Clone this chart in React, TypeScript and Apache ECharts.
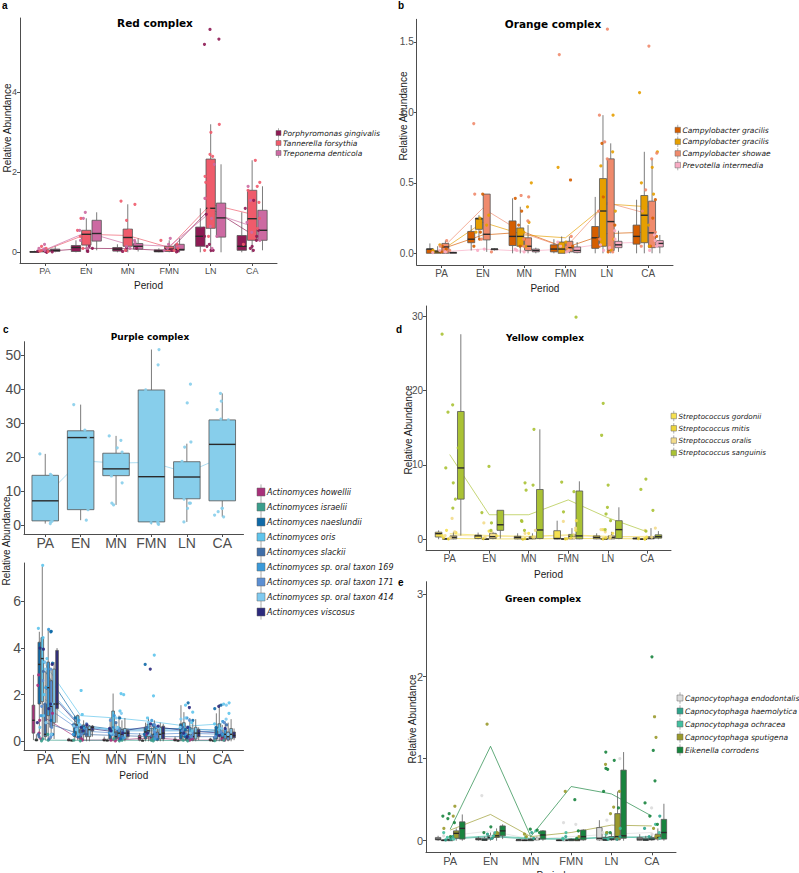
import React, { useEffect, useRef } from "react";
import * as echarts from "echarts";

const periods = ["PA", "EN", "MN", "FMN", "LN", "CA"];

// ---------- a: Red complex ----------
const redSpecies = ["Porphyromonas gingivalis", "Tannerella forsythia", "Treponema denticola"];
const redColors = ["#8e1b54", "#ef5b6b", "#cc6aa2"];
const redTicks = [0, 2, 4];
const redBoxes = [
  [[0, 0, 0.01, 0.02, 0.04], [0, 0.02, 0.12, 0.17, 0.3], [0, 0.03, 0.08, 0.12, 0.2], [0, 0.01, 0.03, 0.06, 0.1], [0, 0.15, 0.4, 0.63, 1.1], [0, 0.05, 0.15, 0.42, 1.0]],
  [[0, 0.01, 0.03, 0.06, 0.12], [0, 0.18, 0.45, 0.55, 0.85], [0, 0.15, 0.37, 0.58, 1.2], [0, 0.02, 0.08, 0.15, 0.3], [0, 0.6, 1.1, 2.33, 3.2], [0, 0.3, 0.84, 1.55, 2.3]],
  [[0, 0.02, 0.05, 0.08, 0.15], [0.05, 0.28, 0.47, 0.8, 1.0], [0.02, 0.08, 0.15, 0.22, 0.35], [0, 0.05, 0.07, 0.2, 0.35], [0, 0.38, 0.86, 1.23, 2.2], [0.05, 0.3, 0.55, 1.05, 1.65]],
];
const redMeans = [
  [0.02, 0.1, 0.09, 0.04, 1.1, 0.45],
  [0.05, 0.45, 0.42, 0.12, 1.2, 0.95],
  [0.06, 0.5, 0.2, 0.15, 1.0, 0.65],
];
const redPoints = [
  [[0, 0.01, 0.02, 0.03], [0.02, 0.1, 0.15, 0.05], [0.05, 0.1, 0.02, 0.12], [0.01, 0.03, 0.05], [5.57, 5.33, 5.2, 0.6, 0.4, 0.15, 0.05, 0.05, 0.2, 0.95], [1.3, 1.1, 0.4, 0.15, 0.1, 0.05, 0.55, 0.3]],
  [[0.05, 0.1, 0.02, 0.15, 0.03], [0.85, 0.55, 0.3, 0.1, 0.4], [1.28, 1.2, 0.8, 0.55, 0.3, 0.05], [0.3, 0.2, 0.1, 0.05], [3.2, 3.0, 2.45, 2.4, 1.9, 1.75, 1.1, 0.9, 0.4, 0.05, 1.35], [2.3, 1.75, 1.65, 1.55, 1.25, 0.85, 0.6, 0.2]],
  [[0.05, 0.1, 0.08, 0.2], [1.0, 0.85, 0.55, 0.3, 0.1], [0.3, 0.25, 0.15, 0.1], [0.35, 0.2, 0.1, 0.05], [2.2, 1.35, 0.85, 0.65, 0.4, 0.1], [1.65, 1.3, 0.75, 0.5, 0.3]],
];

// ---------- b: Orange complex ----------
const orangeSpecies = ["Campylobacter gracilis", "Campylobacter gracilis", "Campylobacter showae", "Prevotella intermedia"];
const orangeColors = ["#d55e00", "#e69f00", "#ef8a6c", "#f8acc4"];
const orangeTicks = [0, 0.5, 1, 1.5];
const orangeBoxes = [
  [[0, 0, 0.03, 0.03, 0.07], [0.02, 0.075, 0.1, 0.155, 0.2], [0, 0.055, 0.12, 0.23, 0.39], [0, 0.01, 0.03, 0.06, 0.1], [0, 0.035, 0.11, 0.19, 0.4], [0, 0.065, 0.12, 0.2, 0.38]],
  [[0, 0, 0.01, 0.02, 0.05], [0.1, 0.17, 0.245, 0.25, 0.27], [0, 0.05, 0.12, 0.18, 0.33], [0, 0, 0.03, 0.08, 0.12], [0, 0.05, 0.3, 0.53, 0.98], [0, 0.075, 0.27, 0.41, 0.72]],
  [[0, 0, 0.045, 0.07, 0.09], [0.01, 0.095, 0.135, 0.42, 0.42], [0, 0.02, 0.05, 0.11, 0.2], [0, 0.01, 0.04, 0.085, 0.12], [0, 0.02, 0.225, 0.67, 0.78], [0, 0.04, 0.145, 0.37, 0.67]],
  [[0, 0, 0.005, 0.005, 0.01], [0.02, 0.025, 0.03, 0.03, 0.035], [0, 0.01, 0.02, 0.03, 0.04], [0, 0.005, 0.02, 0.045, 0.08], [0.01, 0.04, 0.06, 0.085, 0.16], [0, 0.045, 0.07, 0.09, 0.13]],
];
const orangeMeans = [
  [0.03, 0.13, 0.15, 0.04, 0.14, 0.15],
  [0.02, 0.22, 0.13, 0.11, 0.35, 0.33],
  [0.03, 0.32, 0.14, 0.04, 0.36, 0.28],
  [0.01, 0.03, 0.015, 0.03, 0.07, 0.08],
];
const orangePoints = [
  [[0.03, 0.05, 0.01], [0.42, 0.15, 0.1, 0.05], [0.39, 0.3, 0.2, 0.1, 0.05], [0.52, 0.05, 0.02], [0.78, 0.4, 0.2, 0.1, 0.05, 0.01], [0.38, 0.25, 0.12, 0.05]],
  [[0.02, 0.06, 0.01], [0.27, 0.25, 0.2, 0.15], [0.5, 0.33, 0.22, 0.15, 0.05], [0.61, 0.08, 0.03], [0.98, 0.72, 0.62, 0.42, 0.3, 0.1, 0.02], [1.14, 0.72, 0.61, 0.5, 0.42, 0.2, 0.05]],
  [[0.09, 0.05, 0.02], [0.92, 0.42, 0.3, 0.1, 0.01], [0.41, 0.4, 0.23, 0.1, 0.05], [1.41, 0.12, 0.04], [1.59, 0.98, 0.79, 0.67, 0.55, 0.3, 0.1, 0.01], [1.47, 0.71, 0.67, 0.45, 0.3, 0.15, 0.05]],
  [[0.01, 0.005, 0.02], [0.03, 0.02], [0.02, 0.03, 0.01], [0.08, 0.02, 0.05, 0.01], [0.16, 0.1, 0.06, 0.04, 0.02], [0.13, 0.09, 0.07, 0.05, 0.02]],
];

// ---------- c (top): Purple complex, total ----------
const purpleTotalSpecies = ["Actinomyces"];
const purpleTotalColors = ["#87ceeb"];
const purpleTotalTicks = [0, 10, 20, 30, 40, 50];
const purpleTotalBoxes = [
  [[0.5, 1.3, 7.2, 14.7, 21], [1.5, 4.6, 25.8, 27.8, 35.5], [6, 14.6, 16.6, 21.2, 26.3], [0.3, 1.0, 14.3, 39.8, 51.7], [1, 7.8, 14.2, 18.7, 24], [2.5, 7.2, 23.8, 31, 38.8]],
];
const purpleTotalMeans = [[8.5, 19, 18.3, 18.5, 15.5, 20]];
const purpleTotalPoints = [
  [[21, 15, 14.7, 1.2, 1.0, 0.5], [35.5, 28, 4.6, 1.5, 25.8], [26.3, 25, 22.8, 21.5, 14.5, 12.5, 6.5, 6], [51.7, 47.2, 39.8, 1, 0.5, 0.3, 0.8], [41.5, 36, 24.5, 23, 18.8, 7.7, 6.5, 6.5, 5, 1], [38.8, 36.5, 34, 31.2, 31, 5, 4, 5, 3, 2.5]],
];

// ---------- c (bottom): Purple complex, species ----------
const purpleSpecies = [
  "Actinomyces howellii", "Actinomyces israelii", "Actinomyces naeslundii", "Actinomyces oris", "Actinomyces slackii",
  "Actinomyces sp. oral taxon 169", "Actinomyces sp. oral taxon 171", "Actinomyces sp. oral taxon 414", "Actinomyces viscosus",
];
const purpleColors = ["#a8307a", "#3a9e8c", "#0f6aa8", "#5ec4ec", "#3f6ea8", "#3a9ad9", "#5b8fd3", "#7fcaf0", "#2c2a7d"];
const purpleTicks = [0, 2, 4, 6];
const purpleBoxes = [
  [[0.05, 0.35, 0.9, 1.55, 2.85], [0, 0.02, 0.05, 0.1, 0.15], [0, 0.02, 0.04, 0.1, 0.2], [0, 0.05, 0.15, 0.25, 0.35], [0, 0.02, 0.05, 0.1, 0.2], [0, 0.02, 0.05, 0.1, 0.15]],
  [[0, 0.02, 0.05, 0.1, 0.3], [0, 0.01, 0.03, 0.05, 0.1], [0, 0.01, 0.03, 0.06, 0.12], [0, 0.01, 0.02, 0.05, 0.1], [0, 0.01, 0.02, 0.04, 0.08], [0, 0.01, 0.02, 0.04, 0.08]],
  [[0.1, 1.6, 3.3, 4.25, 4.7], [0, 0.2, 0.6, 0.75, 1.1], [0, 0.1, 0.3, 0.55, 1.0], [0, 0.1, 0.4, 0.6, 0.8], [0, 0.1, 0.35, 0.75, 1.55], [0, 0.1, 0.3, 0.6, 1.2]],
  [[0.1, 1.7, 3.55, 4.45, 7.5], [0.05, 0.3, 0.7, 1.1, 1.15], [0, 0.3, 0.6, 1.3, 2.05], [0, 0.2, 0.45, 0.75, 1.0], [0, 0.2, 0.45, 0.8, 1.25], [0, 0.25, 0.5, 0.75, 1.6]],
  [[0.05, 0.2, 0.3, 1.6, 3.0], [0, 0.1, 0.3, 0.5, 0.7], [0, 0.1, 0.2, 0.4, 0.8], [0, 0.05, 0.15, 0.3, 0.6], [0, 0.05, 0.15, 0.3, 0.6], [0, 0.05, 0.15, 0.35, 0.7]],
  [[0.05, 1.1, 2.3, 3.4, 4.8], [0.05, 0.3, 0.55, 0.7, 0.9], [0, 0.15, 0.35, 0.6, 1.1], [0, 0.1, 0.3, 0.6, 0.9], [0, 0.1, 0.3, 0.6, 1.0], [0, 0.1, 0.3, 0.5, 0.85]],
  [[0.1, 0.6, 1.5, 2.6, 3.1], [0, 0.2, 0.3, 0.6, 0.75], [0, 0.1, 0.3, 0.5, 0.9], [0, 0.05, 0.2, 0.4, 0.7], [0, 0.05, 0.2, 0.45, 0.9], [0, 0.05, 0.2, 0.4, 0.8]],
  [[0.1, 0.8, 1.6, 3.1, 3.4], [0, 0.2, 0.5, 0.65, 0.7], [0, 0.1, 0.35, 0.55, 1.0], [0, 0.1, 0.3, 0.6, 0.8], [0, 0.1, 0.35, 0.6, 0.95], [0, 0.1, 0.3, 0.55, 0.95]],
  [[0.8, 1.4, 1.6, 3.9, 4.0], [0.2, 0.45, 0.6, 0.65, 0.7], [0.1, 0.2, 0.35, 0.45, 0.55], [0, 0.1, 0.35, 0.65, 0.75], [0.05, 0.2, 0.35, 0.5, 0.6], [0.05, 0.15, 0.25, 0.4, 0.55]],
];
const purpleMeans = [
  [1.0, 0.05, 0.05, 0.15, 0.05, 0.05],
  [0.05, 0.04, 0.05, 0.04, 0.03, 0.03],
  [3.0, 0.7, 0.5, 0.55, 0.55, 0.45],
  [3.3, 1.1, 1.0, 0.85, 0.65, 0.75],
  [0.8, 0.3, 0.25, 0.2, 0.2, 0.2],
  [2.4, 0.65, 0.45, 0.45, 0.45, 0.4],
  [1.5, 0.45, 0.35, 0.3, 0.35, 0.3],
  [1.8, 0.55, 0.55, 0.5, 0.5, 0.5],
  [2.3, 0.6, 0.4, 0.65, 0.45, 0.35],
];
const purplePoints = [
  [[2.85, 2.4, 1.2, 0.9, 0.35, 0.1], [0.1, 0.05], [0.1, 0.05, 0.02], [0.3, 0.2, 0.1], [0.1, 0.05], [0.1, 0.05]],
  [[0.05, 0.1, 0.02, 0.3], [0.05, 0.02], [0.05, 0.1, 0.02], [0.05, 0.02, 0.1], [0.05, 0.02], [0.05, 0.03]],
  [[4.7, 4.72, 3.35, 1.6, 0.9, 0.3], [1.0, 0.6, 0.2], [1.0, 0.5, 0.3, 0.1], [3.3, 0.7, 0.3, 0.1], [1.65, 0.9, 0.5, 0.2], [1.55, 1.4, 0.6, 0.3]],
  [[7.55, 4.85, 4.45, 3.55, 2.0, 1.1, 0.6], [2.18, 1.15, 0.7, 0.3], [2.05, 2.0, 1.3, 0.6, 0.3], [3.7, 1.95, 1.0, 0.45], [1.55, 1.25, 0.8, 0.45], [1.65, 1.6, 1.2, 0.75, 0.5]],
  [[3.0, 1.6, 0.3, 0.2, 0.1], [0.7, 0.3], [0.8, 0.4, 0.2], [0.6, 0.3, 0.15], [0.6, 0.3, 0.15], [0.7, 0.35, 0.15]],
  [[4.8, 3.4, 2.3, 1.1, 0.3], [0.9, 0.55, 0.3], [1.1, 0.6, 0.35, 0.15], [0.9, 0.6, 0.3, 0.1], [1.0, 0.6, 0.3], [0.85, 0.5, 0.3]],
  [[3.1, 2.6, 1.5, 0.6, 0.2], [0.75, 0.6, 0.3], [0.9, 0.5, 0.3], [0.7, 0.4, 0.2], [0.9, 0.45, 0.2], [0.8, 0.4, 0.2]],
  [[3.4, 3.1, 1.6, 0.8, 0.3], [0.7, 0.65, 0.5], [1.2, 1.0, 0.55, 0.35], [0.8, 0.6, 0.3], [1.0, 0.95, 0.6, 0.35], [1.55, 0.95, 0.55, 0.3]],
  [[4.0, 3.95, 3.3, 1.6, 1.4, 0.8], [0.7, 0.6, 0.45], [0.55, 0.45, 0.35], [3.1, 0.75, 0.65, 0.35], [1.45, 0.6, 0.35, 0.2], [1.5, 0.55, 0.25]],
];

// ---------- d: Yellow complex ----------
const yellowSpecies = ["Streptococcus gordonii", "Streptococcus mitis", "Streptococcus oralis", "Streptococcus sanguinis"];
const yellowColors = ["#f5e050", "#ecd43c", "#f3dc8c", "#aac234"];
const yellowTicks = [0, 10, 20, 30];
const yellowBoxes = [
  [[0, 0.3, 0.75, 0.95, 1.2], [0, 0.1, 0.45, 0.55, 0.9], [0, 0.05, 0.25, 0.4, 0.8], [0, 0.05, 0.1, 1.15, 2.5], [0, 0.05, 0.25, 0.45, 0.8], [0, 0.05, 0.1, 0.15, 0.3]],
  [[0, 0, 0.05, 0.1, 0.2], [0, 0, 0.02, 0.05, 0.1], [0, 0, 0.02, 0.05, 0.1], [0, 0, 0.03, 0.1, 0.2], [0, 0, 0.03, 0.1, 0.2], [0, 0, 0.02, 0.05, 0.1]],
  [[0, 0.05, 0.25, 0.45, 1.0], [0, 0.1, 0.35, 0.8, 1.0], [0, 0.05, 0.15, 0.35, 0.8], [0, 0.05, 0.4, 0.65, 1.5], [0, 0.05, 0.25, 0.45, 1.0], [0, 0.05, 0.15, 0.35, 1.5]],
  [[0.5, 5.4, 9.6, 17.2, 27.6], [0.1, 1.2, 1.95, 3.9, 3.9], [0, 0.1, 1.25, 6.7, 14.8], [0, 0.05, 0.45, 6.5, 7.8], [0, 0.1, 1.3, 2.5, 4.3], [0, 0.15, 0.35, 0.6, 1.1]],
];
const yellowMeans = [
  [0.75, 0.5, 0.4, 0.6, 0.4, 0.3],
  [0.1, 0.05, 0.05, 0.1, 0.1, 0.05],
  [0.55, 0.4, 0.35, 0.5, 0.3, 0.4],
  [11.4, 3.3, 3.3, 5.3, 2.9, 1.0],
];
const yellowPoints = [
  [[1.2, 0.9, 0.5], [1.1, 0.45], [0.8, 0.3], [2.5, 1.2, 0.1], [1.3, 0.8, 0.2], [0.3, 0.1]],
  [[0.2, 0.05], [0.1], [0.1, 0.02], [0.2, 0.05], [0.2, 0.05], [0.1, 0.02]],
  [[2.8, 1.0, 0.5, 0.2], [2.2, 1.0, 0.3], [1.2, 0.8, 0.3], [2.4, 1.5, 0.6, 0.2], [1.3, 1.0, 0.4], [1.5, 1.2, 0.3]],
  [[27.6, 18.1, 17.1, 12.3, 9.6, 7.6, 5.4, 4.2], [9.8, 3.6, 2.2, 1.2], [14.8, 7.6, 7.3, 6.6, 2.5, 2.4, 1.2], [29.9, 7.7, 6.4, 3.7, 0.5], [18.3, 14.0, 7.3, 4.3, 3.4, 2.5, 1.3], [8.1, 6.7, 3.9, 1.1]],
];

// ---------- e: Green complex ----------
const greenSpecies = ["Capnocytophaga endodontalis", "Capnocytophaga haemolytica", "Capnocytophaga ochracea", "Capnocytophaga sputigena", "Eikenella corrodens"];
const greenColors = ["#dcdcdc", "#2fa38c", "#43bfa0", "#9a9a2c", "#18843e"];
const greenTicks = [0, 1, 2, 3];
const greenBoxes = [
  [[0, 0.01, 0.02, 0.04, 0.06], [0, 0.01, 0.02, 0.03, 0.05], [0, 0, 0.01, 0.01, 0.02], [0, 0, 0.005, 0.01, 0.02], [0, 0.01, 0.03, 0.16, 0.25], [0, 0.005, 0.02, 0.04, 0.08]],
  [[0, 0, 0.005, 0.01, 0.02], [0, 0.005, 0.01, 0.03, 0.05], [0, 0, 0.005, 0.01, 0.02], [0, 0, 0.005, 0.01, 0.02], [0, 0.005, 0.01, 0.04, 0.08], [0, 0.005, 0.01, 0.03, 0.06]],
  [[0, 0, 0.01, 0.02, 0.04], [0, 0.02, 0.04, 0.06, 0.1], [0, 0, 0.01, 0.02, 0.04], [0, 0, 0.01, 0.02, 0.03], [0, 0.01, 0.02, 0.05, 0.1], [0, 0.01, 0.02, 0.04, 0.08]],
  [[0, 0.03, 0.09, 0.12, 0.15], [0, 0.04, 0.06, 0.1, 0.15], [0, 0.01, 0.02, 0.03, 0.05], [0, 0, 0.01, 0.02, 0.04], [0, 0.01, 0.05, 0.33, 0.6], [0, 0.02, 0.04, 0.08, 0.15]],
  [[0, 0.02, 0.15, 0.23, 0.32], [0.02, 0.06, 0.12, 0.18, 0.2], [0, 0.02, 0.07, 0.12, 0.13], [0, 0.01, 0.05, 0.13, 0.14], [0, 0.03, 0.06, 0.86, 1.08], [0, 0.02, 0.1, 0.26, 0.45]],
];
const greenMeans = [
  [0.06, 0.12, 0.02, 0.05, 0.08, 0.1],
  [0.02, 0.05, 0.02, 0.02, 0.04, 0.05],
  [0.03, 0.06, 0.03, 0.02, 0.05, 0.03],
  [0.13, 0.32, 0.05, 0.1, 0.19, 0.18],
  [0.14, 1.15, 0.05, 0.66, 0.57, 0.3],
];
const greenPoints = [
  [[0.06, 0.02], [0.55, 0.05], [0.02], [0.22, 0.2, 0.01], [1.0, 0.25, 0.1], [0.4, 0.08]],
  [[0.02, 0.05, 0.01], [0.08, 0.03], [0.03, 0.1], [0.02, 0.05], [0.1, 0.05, 0.02], [0.3, 0.15, 0.05]],
  [[0.04, 0.1, 0.02], [0.1, 0.06], [0.12, 0.04], [0.03, 0.1], [0.15, 0.08, 0.02], [0.2, 0.1, 0.03]],
  [[0.42, 0.3, 0.15], [1.42, 0.1], [0.08, 0.05], [0.6, 0.05], [0.93, 0.6, 0.41, 0.33, 0.1], [1.51, 1.26, 0.15, 0.05]],
  [[0.33, 0.3, 0.27, 0.22, 0.05], [0.17, 0.1], [0.14, 0.13, 0.1], [0.5, 0.12, 0.03], [1.08, 0.98, 0.88, 0.87, 0.6, 0.4, 0.1], [2.24, 1.1, 0.73, 0.46, 0.3, 0.2]],
];

// ---------- layout (positions / styles only) ----------
const XMIN = 0.4;
const XMAX = 6.6;
const FONT_TICK = "'Liberation Sans Narrow','Liberation Sans',Arial,sans-serif";
const FONT_SANS = "'Liberation Sans',Arial,sans-serif";
const FONT_DV = "'DejaVu Sans',Verdana,sans-serif";

type Panel = {
  species: string[]; colors: string[]; boxes: number[][][]; means: number[][]; points: number[][][];
  left: number; right: number; top: number; bottom: number; ymin: number; ymax: number; ticks: number[]; dec: number;
  tickFont: number; yMargin: number; xMargin: number; period: boolean; periodGap: number;
};

const panels: Panel[] = [
  { species: redSpecies, colors: redColors, boxes: redBoxes, means: redMeans, points: redPoints,
    left: 20, right: 277, top: 18, bottom: 263, ymin: -0.2675, ymax: 5.857, ticks: redTicks, dec: 0,
    tickFont: 9, yMargin: 3, xMargin: 3, period: true, periodGap: 17 },
  { species: orangeSpecies, colors: orangeColors, boxes: orangeBoxes, means: orangeMeans, points: orangePoints,
    left: 416.7, right: 673, top: 19.3, bottom: 265, ymin: -0.083, ymax: 1.66, ticks: orangeTicks, dec: 1,
    tickFont: 10, yMargin: 3, xMargin: 3, period: true, periodGap: 18 },
  { species: purpleTotalSpecies, colors: purpleTotalColors, boxes: purpleTotalBoxes, means: purpleTotalMeans, points: purpleTotalPoints,
    left: 24, right: 243.5, top: 341.7, bottom: 534, ymin: -2.56, ymax: 54, ticks: purpleTotalTicks, dec: 0,
    tickFont: 14, yMargin: 3, xMargin: 2, period: false, periodGap: 0 },
  { species: purpleSpecies, colors: purpleColors, boxes: purpleBoxes, means: purpleMeans, points: purplePoints,
    left: 24, right: 243.5, top: 563, bottom: 750, ymin: -0.373, ymax: 7.65, ticks: purpleTicks, dec: 0,
    tickFont: 14, yMargin: 3, xMargin: 2, period: true, periodGap: 20 },
  { species: yellowSpecies, colors: yellowColors, boxes: yellowBoxes, means: yellowMeans, points: yellowPoints,
    left: 426, right: 671, top: 306, bottom: 550.7, ymin: -1.54, ymax: 31.4, ticks: yellowTicks, dec: 0,
    tickFont: 10, yMargin: 3, xMargin: 3, period: true, periodGap: 19 },
  { species: greenSpecies, colors: greenColors, boxes: greenBoxes, means: greenMeans, points: greenPoints,
    left: 426, right: 676, top: 581.7, bottom: 852.3, ymin: -0.141, ymax: 3.155, ticks: greenTicks, dec: 0,
    tickFont: 11, yMargin: 3, xMargin: 3, period: true, periodGap: 18 },
];

const titles = [
  { text: "Red complex", x: 155, y: 23, size: 10.5 },
  { text: "Orange complex", x: 553, y: 24, size: 10.5 },
  { text: "Purple complex", x: 150, y: 337, size: 9 },
  { text: "Yellow complex", x: 545, y: 338, size: 9 },
  { text: "Green complex", x: 543, y: 599, size: 9 },
];
const letters = [
  { text: "a", x: 2, y: 5 }, { text: "b", x: 398, y: 5 }, { text: "c", x: 3, y: 329 },
  { text: "d", x: 396, y: 329 }, { text: "e", x: 398, y: 582 },
];
const yTitles = [
  { x: 7, y: 128 }, { x: 403, y: 116 }, { x: 6, y: 541 }, { x: 408, y: 430 }, { x: 412, y: 719 },
];
const legends = [
  { species: redSpecies, colors: redColors, x: 276, y0: 133, gap: 10, key: 5, font: 7.5 },
  { species: orangeSpecies, colors: orangeColors, x: 675, y0: 130, gap: 11.7, key: 5.5, font: 7.5 },
  { species: purpleSpecies, colors: purpleColors, x: 257, y0: 492, gap: 15, key: 8, font: 8 },
  { species: yellowSpecies, colors: yellowColors, x: 671, y0: 416, gap: 12.3, key: 5.5, font: 7.2 },
  { species: greenSpecies, colors: greenColors, x: 677, y0: 698, gap: 13, key: 6, font: 7.5 },
];

function buildOption() {
  const grid: any[] = [];
  const xAxis: any[] = [];
  const yAxis: any[] = [];
  const series: any[] = [];
  const graphic: any[] = [];
  const axisColor = "#4d4d4d";
  const cats = [1, 2, 3, 4, 5, 6];

  panels.forEach((p) => {
    const W = p.right - p.left;
    const H = p.bottom - p.top;
    const band = W / (XMAX - XMIN);
    const gi = grid.length;
    grid.push({ left: p.left, top: p.top, width: W, height: H, containLabel: false, outerBoundsMode: "none" });
    xAxis.push({
      type: "value", gridIndex: gi, min: XMIN, max: XMAX,
      axisLine: { show: true, onZero: false, lineStyle: { color: axisColor, width: 1 } },
      axisTick: { show: true, customValues: cats, length: 3, lineStyle: { color: axisColor } },
      axisLabel: { customValues: cats, formatter: (v: number) => periods[Math.round(v) - 1] || "",
        fontSize: p.tickFont, color: axisColor, margin: p.xMargin, fontFamily: FONT_TICK },
      splitLine: { show: false },
      name: p.period ? "Period" : "", nameLocation: "middle", nameGap: p.periodGap,
      nameTextStyle: { fontSize: 10, color: "#1a1a1a", fontFamily: FONT_SANS },
    });
    yAxis.push({
      type: "value", gridIndex: gi, min: p.ymin, max: p.ymax,
      axisLine: { show: true, onZero: false, lineStyle: { color: axisColor, width: 1 } },
      axisTick: { show: true, customValues: p.ticks, length: 3, lineStyle: { color: axisColor } },
      axisLabel: { customValues: p.ticks, formatter: (v: number) => v.toFixed(p.dec),
        fontSize: p.tickFont, color: axisColor, margin: p.yMargin, fontFamily: FONT_TICK },
      splitLine: { show: false },
    });

    const ci = grid.length;
    grid.push({ left: p.left + (0.5 - XMIN) * band, top: p.top, width: 6 * band, height: H, containLabel: false, outerBoundsMode: "none" });
    xAxis.push({ type: "category", gridIndex: ci, data: periods, show: false, boundaryGap: true, jitter: band * 0.45 });
    yAxis.push({ type: "value", gridIndex: ci, min: p.ymin, max: p.ymax, show: false });

    const n = p.species.length;
    p.species.forEach((name, g) => {
      const color = p.colors[g];
      series.push({
        type: "line", name, xAxisIndex: ci, yAxisIndex: ci, data: p.means[g], symbol: "none", silent: true,
        lineStyle: { color, width: 0.8, opacity: 0.85 }, z: 2,
      });
      series.push({
        type: "custom", name, xAxisIndex: ci, yAxisIndex: ci, silent: true, z: 3,
        data: p.boxes[g].map((b, i) => [i, ...b]),
        encode: { x: 0, y: [1, 2, 3, 4, 5] },
        renderItem: (params: any, api: any) => {
          const i = api.value(0);
          const lo = api.coord([i, api.value(1)]);
          const q1 = api.coord([i, api.value(2)]);
          const md = api.coord([i, api.value(3)]);
          const q3 = api.coord([i, api.value(4)]);
          const hi = api.coord([i, api.value(5)]);
          const bw = api.size([1, 0])[0];
          const slot = (bw * 0.75) / n;
          const cx = lo[0] + (g - (n - 1) / 2) * slot;
          const w = n > 1 ? slot * 0.9 : slot;
          const ws = { stroke: "#5a5a5a", lineWidth: 0.8 };
          return {
            type: "group",
            children: [
              { type: "line", shape: { x1: cx, y1: lo[1], x2: cx, y2: q1[1] }, style: ws },
              { type: "line", shape: { x1: cx, y1: q3[1], x2: cx, y2: hi[1] }, style: ws },
              { type: "rect", shape: { x: cx - w / 2, y: q3[1], width: w, height: Math.max(0.6, q1[1] - q3[1]) },
                style: { fill: color, stroke: "#555", lineWidth: 0.8 } },
              { type: "line", shape: { x1: cx - w / 2, y1: md[1], x2: cx + w / 2, y2: md[1] },
                style: { stroke: "#2a2a2a", lineWidth: 1.4 } },
            ],
          };
        },
      });
      const pts: any[] = [];
      p.points[g].forEach((arr, i) => arr.forEach((v) => pts.push([i, v])));
      series.push({
        type: "scatter", name, xAxisIndex: ci, yAxisIndex: ci, data: pts, symbolSize: 3.2, silent: true,
        itemStyle: { color, opacity: 0.9 }, z: 5,
      });
    });
  });

  titles.forEach((t) => graphic.push({
    type: "text", x: t.x, y: t.y, silent: true,
    style: { text: t.text, fill: "#000", fontSize: t.size, fontWeight: "bold", fontFamily: FONT_DV, align: "center", verticalAlign: "middle" },
  }));
  letters.forEach((t) => graphic.push({
    type: "text", x: t.x, y: t.y, silent: true,
    style: { text: t.text, fill: "#000", fontSize: 10, fontWeight: "bold", fontFamily: FONT_SANS, align: "left", verticalAlign: "middle" },
  }));
  yTitles.forEach((t) => graphic.push({
    type: "text", x: t.x, y: t.y, rotation: Math.PI / 2, silent: true,
    style: { text: "Relative Abundance", fill: "#1a1a1a", fontSize: 10, fontFamily: FONT_SANS, align: "center", verticalAlign: "middle" },
  }));
  legends.forEach((lg) => {
    lg.species.forEach((name, k) => {
      const cy = lg.y0 + k * lg.gap;
      const cx = lg.x + lg.key / 2;
      graphic.push({ type: "line", silent: true, shape: { x1: cx, y1: cy - lg.key * 0.95, x2: cx, y2: cy + lg.key * 0.95 }, style: { stroke: "#777", lineWidth: 0.6 } });
      graphic.push({ type: "rect", silent: true, shape: { x: lg.x, y: cy - lg.key / 2, width: lg.key, height: lg.key }, style: { fill: lg.colors[k], stroke: "#666", lineWidth: 0.5 } });
      graphic.push({
        type: "text", x: lg.x + lg.key + 2, y: cy, silent: true,
        style: { text: name, fill: "#1a1a1a", fontSize: lg.font, fontStyle: "italic", fontFamily: FONT_DV, align: "left", verticalAlign: "middle" },
      });
    });
  });

  return { animation: false, backgroundColor: "#ffffff", grid, xAxis, yAxis, series, graphic };
}

export default function App() {
  const ref = useRef<HTMLDivElement>(null);
  useEffect(() => {
    if (!ref.current) return;
    const chart = echarts.init(ref.current, null, { renderer: "svg" });
    chart.setOption(buildOption() as any);
    return () => chart.dispose();
  }, []);
  return <div ref={ref} style={{ position: "absolute", left: 0, top: 0, width: 799, height: 873 }} />;
}
